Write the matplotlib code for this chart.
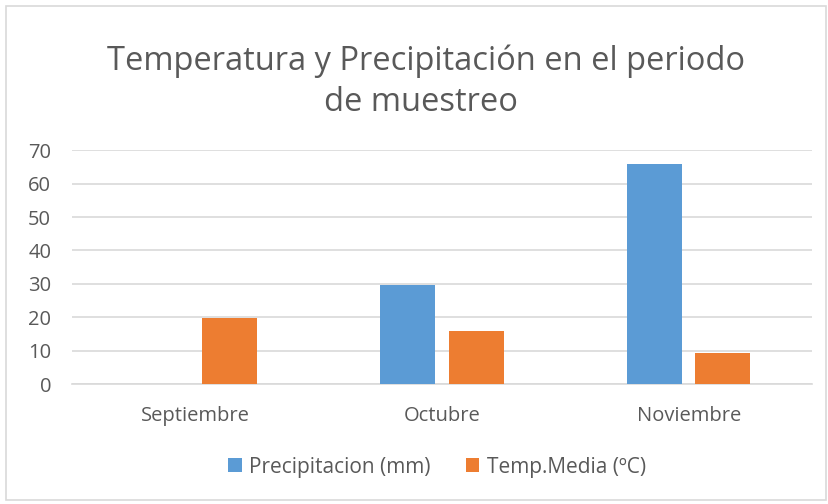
import matplotlib.pyplot as plt
import numpy as np
from matplotlib.patches import Rectangle

plt.rcParams['font.family'] = ['Open Sans', 'DejaVu Sans']

meses = ['Septiembre', 'Octubre', 'Noviembre']
precipitacion = [0, 29.6, 66.0]
temp_media = [19.8, 15.9, 9.4]
yticks = [0, 10, 20, 30, 40, 50, 60, 70]

azul = '#5b9bd5'
naranja = '#ed7d31'
gris = '#595959'

fig = plt.figure(figsize=(8.29, 5.04), dpi=100)
# marco del grafico
fig.patches.append(Rectangle((6 / 829, 4 / 504), 820 / 829, 494 / 504,
                             transform=fig.transFigure, fill=False,
                             edgecolor='#d9d9d9', linewidth=1.2))

ax = fig.add_axes([0.0869, 0.238, 0.8926, 0.464])
x = np.arange(len(meses))
w = 0.223
ax.bar(x - 0.138, precipitacion, w, color=azul, label='Precipitacion (mm)', zorder=3)
ax.bar(x + 0.138, temp_media, w, color=naranja, label='Temp.Media (ºC)', zorder=3)

ax.set_xlim(-0.5, 2.5)
ax.set_ylim(0, 70)
ax.set_yticks(yticks)
ax.set_xticks(x)
ax.set_xticklabels(meses)
ax.tick_params(axis='y', length=0, pad=15, labelsize=14.5, labelcolor=gris)
ax.tick_params(axis='x', length=0, pad=16, labelsize=14.5, labelcolor=gris)
ax.grid(axis='y', color='#d9d9d9', linewidth=1.2, zorder=0)
for s in ['top', 'right', 'left']:
    ax.spines[s].set_visible(False)
ax.spines['bottom'].set_color('#d9d9d9')
ax.spines['bottom'].set_linewidth(1.2)

fig.text(0.514, 1 - 61 / 504, 'Temperatura y Precipitación en el periodo',
         ha='center', va='center', fontsize=23.5, color=gris)
fig.text(0.508, 1 - 103 / 504, 'de muestreo',
         ha='center', va='center', fontsize=23.5, color=gris)

fig.legend(loc='center', bbox_to_anchor=(0.527, 0.073), ncol=2, frameon=False,
           fontsize=15, labelcolor=gris, handlelength=0.65, handleheight=0.65,
           handletextpad=0.35, columnspacing=1.7)

fig.savefig('out.png', dpi=100)
